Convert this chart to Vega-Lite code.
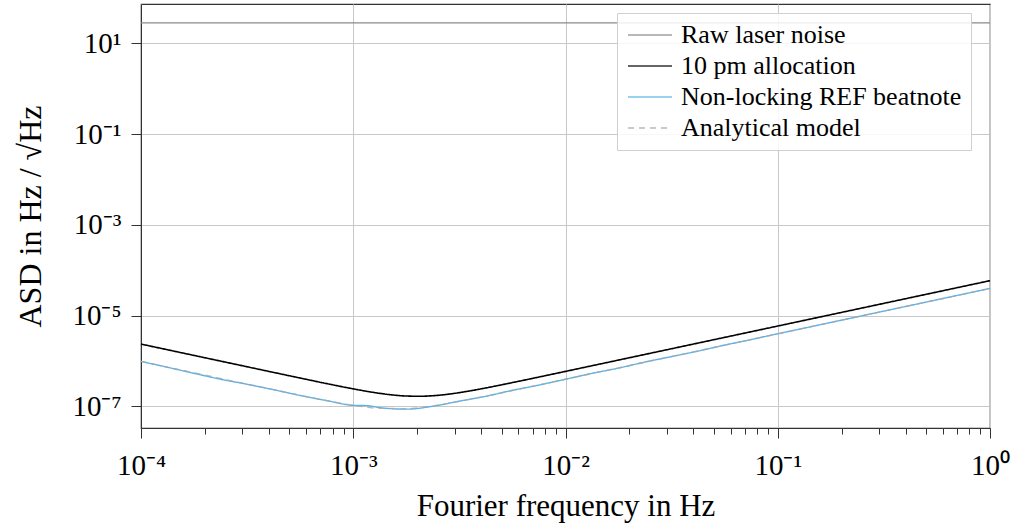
{
  "$schema": "https://vega.github.io/schema/vega-lite/v6.json",
  "autosize": {"type": "none"},
  "width": 849,
  "height": 424,
  "padding": {"left": 141, "top": 4, "right": 33, "bottom": 100},
  "background": "white",
  "config": {
    "view": {"stroke": "#333333", "strokeWidth": 1.2},
    "font": "Liberation Serif",
    "axis": {
      "labelFont": "Liberation Serif",
      "titleFont": "Liberation Serif",
      "labelColor": "#000000",
      "titleColor": "#000000",
      "titleFontWeight": "normal",
      "domainColor": "#333333",
      "tickColor": "#333333",
      "gridColor": "#c8c8c8",
      "gridWidth": 1
    }
  },
  "data": {
    "values": [
      {"f": 0.0001, "asd": 28.4, "series": "Raw laser noise"},
      {"f": 1, "asd": 28.4, "series": "Raw laser noise"},

      {"f": 0.0001, "asd": 2.3621e-6, "series": "10 pm allocation"},
      {"f": 0.00013335, "asd": 1.7713e-6, "series": "10 pm allocation"},
      {"f": 0.00017783, "asd": 1.3283e-6, "series": "10 pm allocation"},
      {"f": 0.00023714, "asd": 9.962e-7, "series": "10 pm allocation"},
      {"f": 0.00031623, "asd": 7.472e-7, "series": "10 pm allocation"},
      {"f": 0.0004217, "asd": 5.607e-7, "series": "10 pm allocation"},
      {"f": 0.00056234, "asd": 4.2136e-7, "series": "10 pm allocation"},
      {"f": 0.00074989, "asd": 3.1809e-7, "series": "10 pm allocation"},
      {"f": 0.001, "asd": 2.4348e-7, "series": "10 pm allocation"},
      {"f": 0.0011548, "asd": 2.1562e-7, "series": "10 pm allocation"},
      {"f": 0.0013335, "asd": 1.9385e-7, "series": "10 pm allocation"},
      {"f": 0.0015399, "asd": 1.7832e-7, "series": "10 pm allocation"},
      {"f": 0.0017783, "asd": 1.6933e-7, "series": "10 pm allocation"},
      {"f": 0.0020535, "asd": 1.6714e-7, "series": "10 pm allocation"},
      {"f": 0.0023714, "asd": 1.7184e-7, "series": "10 pm allocation"},
      {"f": 0.0027384, "asd": 1.8328e-7, "series": "10 pm allocation"},
      {"f": 0.0031623, "asd": 2.0113e-7, "series": "10 pm allocation"},
      {"f": 0.0036517, "asd": 2.2513e-7, "series": "10 pm allocation"},
      {"f": 0.004217, "asd": 2.5524e-7, "series": "10 pm allocation"},
      {"f": 0.0056234, "asd": 3.3472e-7, "series": "10 pm allocation"},
      {"f": 0.0074989, "asd": 4.4395e-7, "series": "10 pm allocation"},
      {"f": 0.01, "asd": 5.9099e-7, "series": "10 pm allocation"},
      {"f": 0.013335, "asd": 7.8766e-7, "series": "10 pm allocation"},
      {"f": 0.017783, "asd": 1.0502e-6, "series": "10 pm allocation"},
      {"f": 0.023714, "asd": 1.4003e-6, "series": "10 pm allocation"},
      {"f": 0.031623, "asd": 1.8674e-6, "series": "10 pm allocation"},
      {"f": 0.04217, "asd": 2.4902e-6, "series": "10 pm allocation"},
      {"f": 0.056234, "asd": 3.3207e-6, "series": "10 pm allocation"},
      {"f": 0.074989, "asd": 4.4283e-6, "series": "10 pm allocation"},
      {"f": 0.1, "asd": 5.9052e-6, "series": "10 pm allocation"},
      {"f": 0.13335, "asd": 7.8746e-6, "series": "10 pm allocation"},
      {"f": 0.17783, "asd": 1.0501e-5, "series": "10 pm allocation"},
      {"f": 0.23714, "asd": 1.4003e-5, "series": "10 pm allocation"},
      {"f": 0.31623, "asd": 1.8674e-5, "series": "10 pm allocation"},
      {"f": 0.4217, "asd": 2.4902e-5, "series": "10 pm allocation"},
      {"f": 0.56234, "asd": 3.3207e-5, "series": "10 pm allocation"},
      {"f": 0.74989, "asd": 4.4283e-5, "series": "10 pm allocation"},
      {"f": 1, "asd": 5.9052e-5, "series": "10 pm allocation"},

      {"f": 0.0001, "asd": 9.8e-7, "series": "Non-locking REF beatnote"},
      {"f": 0.00013335, "asd": 7.28e-7, "series": "Non-locking REF beatnote"},
      {"f": 0.00017783, "asd": 5.35e-7, "series": "Non-locking REF beatnote"},
      {"f": 0.00023714, "asd": 3.97e-7, "series": "Non-locking REF beatnote"},
      {"f": 0.00031623, "asd": 3.07e-7, "series": "Non-locking REF beatnote"},
      {"f": 0.0004217, "asd": 2.33e-7, "series": "Non-locking REF beatnote"},
      {"f": 0.00056234, "asd": 1.74e-7, "series": "Non-locking REF beatnote"},
      {"f": 0.00074989, "asd": 1.34e-7, "series": "Non-locking REF beatnote"},
      {"f": 0.001, "asd": 1.057e-7, "series": "Non-locking REF beatnote"},
      {"f": 0.0011548, "asd": 1.04e-7, "series": "Non-locking REF beatnote"},
      {"f": 0.0013335, "asd": 9.4e-8, "series": "Non-locking REF beatnote"},
      {"f": 0.0017783, "asd": 8.69e-8, "series": "Non-locking REF beatnote"},
      {"f": 0.0023714, "asd": 1.008e-7, "series": "Non-locking REF beatnote"},
      {"f": 0.0031623, "asd": 1.306e-7, "series": "Non-locking REF beatnote"},
      {"f": 0.004217, "asd": 1.673e-7, "series": "Non-locking REF beatnote"},
      {"f": 0.0056234, "asd": 2.262e-7, "series": "Non-locking REF beatnote"},
      {"f": 0.0074989, "asd": 2.95e-7, "series": "Non-locking REF beatnote"},
      {"f": 0.01, "asd": 3.97e-7, "series": "Non-locking REF beatnote"},
      {"f": 0.013335, "asd": 5.35e-7, "series": "Non-locking REF beatnote"},
      {"f": 0.017783, "asd": 6.99e-7, "series": "Non-locking REF beatnote"},
      {"f": 0.023714, "asd": 9.51e-7, "series": "Non-locking REF beatnote"},
      {"f": 0.031623, "asd": 1.255e-6, "series": "Non-locking REF beatnote"},
      {"f": 0.04217, "asd": 1.657e-6, "series": "Non-locking REF beatnote"},
      {"f": 0.056234, "asd": 2.244e-6, "series": "Non-locking REF beatnote"},
      {"f": 0.074989, "asd": 2.977e-6, "series": "Non-locking REF beatnote"},
      {"f": 0.1, "asd": 3.99e-6, "series": "Non-locking REF beatnote"},
      {"f": 0.13335, "asd": 5.31e-6, "series": "Non-locking REF beatnote"},
      {"f": 0.17783, "asd": 7.09e-6, "series": "Non-locking REF beatnote"},
      {"f": 0.23714, "asd": 9.45e-6, "series": "Non-locking REF beatnote"},
      {"f": 0.31623, "asd": 1.26e-5, "series": "Non-locking REF beatnote"},
      {"f": 0.4217, "asd": 1.68e-5, "series": "Non-locking REF beatnote"},
      {"f": 0.56234, "asd": 2.24e-5, "series": "Non-locking REF beatnote"},
      {"f": 0.74989, "asd": 2.985e-5, "series": "Non-locking REF beatnote"},
      {"f": 1, "asd": 3.98e-5, "series": "Non-locking REF beatnote"},

      {"f": 0.0001, "asd": 9.8e-7, "series": "Analytical model"},
      {"f": 0.00013335, "asd": 7.349e-7, "series": "Analytical model"},
      {"f": 0.00017783, "asd": 5.511e-7, "series": "Analytical model"},
      {"f": 0.00023714, "asd": 4.1337e-7, "series": "Analytical model"},
      {"f": 0.00031623, "asd": 3.1015e-7, "series": "Analytical model"},
      {"f": 0.0004217, "asd": 2.3299e-7, "series": "Analytical model"},
      {"f": 0.00056234, "asd": 1.7569e-7, "series": "Analytical model"},
      {"f": 0.00074989, "asd": 1.3404e-7, "series": "Analytical model"},
      {"f": 0.001, "asd": 1.0574e-7, "series": "Analytical model"},
      {"f": 0.0013335, "asd": 9.058e-8, "series": "Analytical model"},
      {"f": 0.0017783, "asd": 8.956e-8, "series": "Analytical model"},
      {"f": 0.0023714, "asd": 1.0281e-7, "series": "Analytical model"},
      {"f": 0.0031623, "asd": 1.2931e-7, "series": "Analytical model"},
      {"f": 0.004217, "asd": 1.6901e-7, "series": "Analytical model"},
      {"f": 0.0056234, "asd": 2.2393e-7, "series": "Analytical model"},
      {"f": 0.0074989, "asd": 2.98e-7, "series": "Analytical model"},
      {"f": 0.01, "asd": 3.9712e-7, "series": "Analytical model"},
      {"f": 0.013335, "asd": 5.2945e-7, "series": "Analytical model"},
      {"f": 0.017783, "asd": 7.06e-7, "series": "Analytical model"},
      {"f": 0.023714, "asd": 9.414e-7, "series": "Analytical model"},
      {"f": 0.031623, "asd": 1.2554e-6, "series": "Analytical model"},
      {"f": 0.04217, "asd": 1.6741e-6, "series": "Analytical model"},
      {"f": 0.056234, "asd": 2.2325e-6, "series": "Analytical model"},
      {"f": 0.074989, "asd": 2.9771e-6, "series": "Analytical model"},
      {"f": 0.1, "asd": 3.97e-6, "series": "Analytical model"},
      {"f": 0.13335, "asd": 5.294e-6, "series": "Analytical model"},
      {"f": 0.17783, "asd": 7.06e-6, "series": "Analytical model"},
      {"f": 0.23714, "asd": 9.414e-6, "series": "Analytical model"},
      {"f": 0.31623, "asd": 1.2554e-5, "series": "Analytical model"},
      {"f": 0.4217, "asd": 1.6741e-5, "series": "Analytical model"},
      {"f": 0.56234, "asd": 2.2325e-5, "series": "Analytical model"},
      {"f": 0.74989, "asd": 2.9771e-5, "series": "Analytical model"},
      {"f": 1, "asd": 3.97e-5, "series": "Analytical model"}
    ]
  },
  "encoding": {
    "y": {
      "field": "asd",
      "type": "quantitative",
      "scale": {"type": "log", "domain": [3.34e-8, 74], "nice": false},
      "axis": {
        "values": [10, 0.1, 0.001, 0.00001, 0.0000001],
        "title": "ASD in Hz / √Hz",
        "titleFontSize": 32,
        "titlePadding": 24,
        "labelFontSize": 29,
        "labelPadding": 10,
        "tickSize": 10,
        "grid": true,
        "labelExpr": "'10' + (round(log(datum.value)/LN10) < 0 ? '⁻' : '') + substring('⁰¹²³⁴⁵⁶⁷⁸⁹', abs(round(log(datum.value)/LN10)), abs(round(log(datum.value)/LN10)) + 1)"
      }
    },
    "color": {
      "field": "series",
      "type": "nominal",
      "scale": {
        "domain": ["Raw laser noise", "10 pm allocation", "Non-locking REF beatnote", "Analytical model"],
        "range": ["#8a8a8a", "#000000", "#5ab2e8", "#a8a8a8"]
      },
      "legend": {
        "title": null,
        "orient": "none",
        "legendX": 476,
        "legendY": 9,
        "direction": "vertical",
        "symbolType": "M-1,0H3",
        "symbolSize": 484,
        "symbolStrokeWidth": 1.6,
        "symbolFillColor": "transparent",
        "labelFont": "Liberation Serif",
        "labelFontSize": 26,
        "labelColor": "#000000",
        "labelOffset": 29,
        "labelLimit": 400,
        "padding": 9,
        "rowPadding": 5,
        "strokeColor": "#d0d0d0",
        "fillColor": "rgba(255,255,255,0.85)"
      }
    },
    "strokeDash": {
      "field": "series",
      "type": "nominal",
      "scale": {
        "domain": ["Raw laser noise", "10 pm allocation", "Non-locking REF beatnote", "Analytical model"],
        "range": [[1, 0], [1, 0], [1, 0], [6, 5]]
      },
      "legend": {
        "title": null,
        "orient": "none",
        "legendX": 476,
        "legendY": 9
      }
    }
  },
  "layer": [
    {
      "transform": [{"filter": "datum.series === 'Raw laser noise'"}],
      "mark": {"type": "line", "strokeWidth": 1.3},
      "encoding": {
        "x": {
          "field": "f",
          "type": "quantitative",
          "scale": {"type": "log", "domain": [0.0001, 1], "nice": false},
          "axis": {
            "orient": "bottom",
            "values": [0.0002, 0.0003, 0.0004, 0.0005, 0.0006, 0.0007, 0.0008, 0.0009, 0.002, 0.003, 0.004, 0.005, 0.006, 0.007, 0.008, 0.009, 0.02, 0.03, 0.04, 0.05, 0.06, 0.07, 0.08, 0.09, 0.2, 0.3, 0.4, 0.5, 0.6, 0.7, 0.8, 0.9],
            "labels": false,
            "grid": false,
            "domain": false,
            "tickSize": 6,
            "title": null
          }
        }
      }
    },
    {
      "transform": [{"filter": "datum.series === '10 pm allocation'"}],
      "mark": {"type": "line", "strokeWidth": 1.6, "interpolate": "monotone"},
      "encoding": {
        "x": {
          "field": "f",
          "type": "quantitative",
          "axis": {
            "orient": "bottom",
            "values": [0.0001, 0.001, 0.01, 0.1, 1],
            "grid": true,
            "tickSize": 10,
            "labelFontSize": 29,
            "labelPadding": 13,
            "labelFlush": false,
            "title": "Fourier frequency in Hz",
            "titleFontSize": 31,
            "titlePadding": 11,
            "labelExpr": "'10' + (round(log(datum.value)/LN10) < 0 ? '⁻' : '') + substring('⁰¹²³⁴⁵⁶⁷⁸⁹', abs(round(log(datum.value)/LN10)), abs(round(log(datum.value)/LN10)) + 1)"
          }
        }
      }
    },
    {
      "transform": [{"filter": "datum.series === 'Non-locking REF beatnote'"}],
      "mark": {"type": "line", "strokeWidth": 1.4, "interpolate": "monotone"},
      "encoding": {
        "x": {"field": "f", "type": "quantitative", "axis": null}
      }
    },
    {
      "transform": [{"filter": "datum.series === 'Analytical model'"}],
      "mark": {"type": "line", "strokeWidth": 1.3, "interpolate": "monotone", "opacity": 0.8},
      "encoding": {
        "x": {"field": "f", "type": "quantitative", "axis": null}
      }
    }
  ],
  "resolve": {"axis": {"x": "independent"}}
}
